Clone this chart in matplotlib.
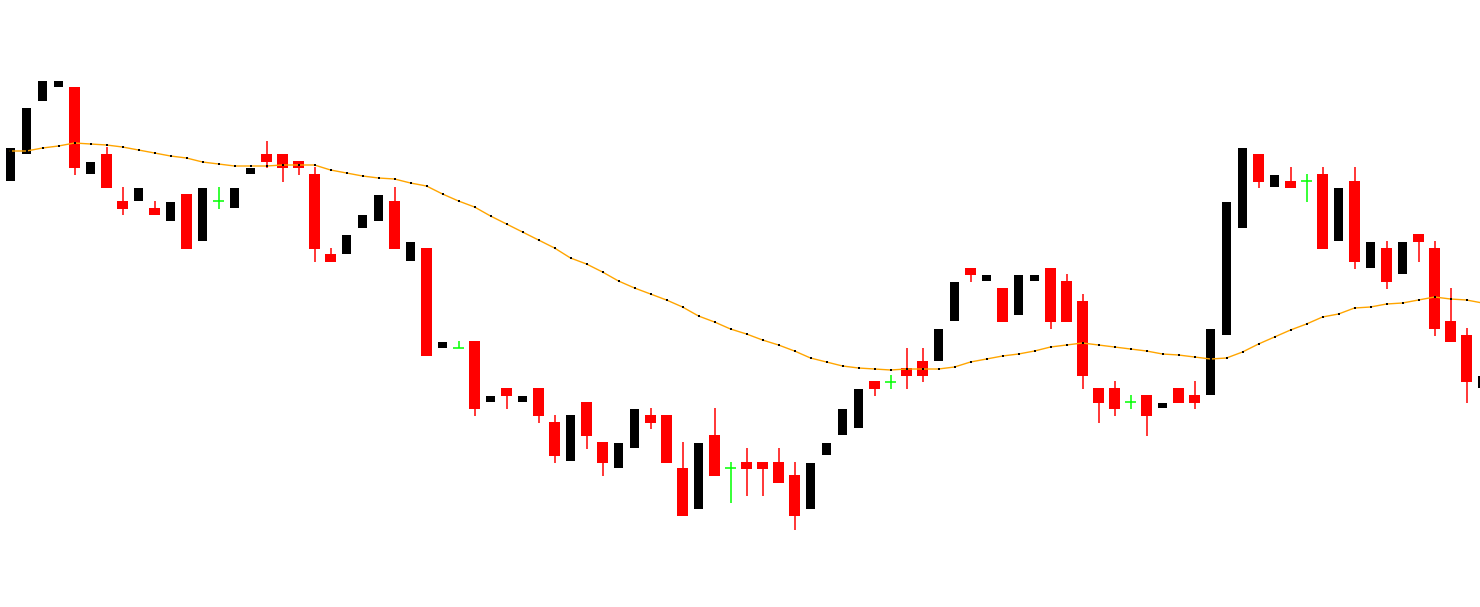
import numpy as np
import matplotlib
matplotlib.use("Agg")
import matplotlib.pyplot as plt

# OHLC per bar (oldest first)
opens = [1.1819, 1.1846, 1.1899, 1.1913, 1.1913, 1.1826, 1.1846, 1.1799, 1.1799, 1.1792,
         1.1779, 1.1806, 1.1759, 1.1799, 1.1792, 1.1826, 1.1846, 1.1846, 1.1839, 1.1826,
         1.1746, 1.1746, 1.1772, 1.1779, 1.1799, 1.1739, 1.1752, 1.1652, 1.1652, 1.1659,
         1.1598, 1.1612, 1.1598, 1.1612, 1.1578, 1.1539, 1.1598, 1.1558, 1.1532, 1.1552,
         1.1585, 1.1585, 1.1532, 1.1491, 1.1565, 1.1532, 1.1538, 1.1538, 1.1538, 1.1525,
         1.1491, 1.1545, 1.1565, 1.1572, 1.1619, 1.1618, 1.1632, 1.1639, 1.1639, 1.1679,
         1.1732, 1.1719, 1.1712, 1.1685, 1.1719, 1.1732, 1.1719, 1.1699, 1.1612, 1.1612,
         1.1598, 1.1605, 1.1592, 1.1612, 1.1605, 1.1605, 1.1665, 1.1772, 1.1846, 1.1813,
         1.1819, 1.1819, 1.1826, 1.1759, 1.1819, 1.1732, 1.1752, 1.1726, 1.1766, 1.1752,
         1.1679, 1.1665, 1.1612]
highs = [1.1852, 1.1892, 1.1919, 1.1919, 1.1913, 1.1838, 1.1853, 1.1813, 1.1812, 1.1799,
         1.1798, 1.1806, 1.1812, 1.1813, 1.1812, 1.1832, 1.1859, 1.1846, 1.1839, 1.1833,
         1.1752, 1.1765, 1.1785, 1.1805, 1.1813, 1.1758, 1.1752, 1.1658, 1.1659, 1.1659,
         1.1604, 1.1612, 1.1604, 1.1612, 1.1585, 1.1585, 1.1598, 1.1558, 1.1557, 1.1591,
         1.1592, 1.1585, 1.1558, 1.1557, 1.1592, 1.1538, 1.1552, 1.1538, 1.1552, 1.1538,
         1.1537, 1.1557, 1.1591, 1.1611, 1.1619, 1.1625, 1.1652, 1.1652, 1.1671, 1.1718,
         1.1732, 1.1725, 1.1712, 1.1725, 1.1725, 1.1732, 1.1726, 1.1706, 1.1612, 1.1619,
         1.1605, 1.1605, 1.1597, 1.1612, 1.1619, 1.1671, 1.1798, 1.1852, 1.1846, 1.1825,
         1.1833, 1.1826, 1.1833, 1.1812, 1.1833, 1.1758, 1.1759, 1.1758, 1.1766, 1.1759,
         1.1712, 1.1672, 1.1624]
lows = [1.1819, 1.1846, 1.1899, 1.1913, 1.1825, 1.1826, 1.1812, 1.1785, 1.1799, 1.1785,
        1.1779, 1.1751, 1.1759, 1.1791, 1.1792, 1.1826, 1.1832, 1.1818, 1.1825, 1.1738,
        1.1738, 1.1746, 1.1772, 1.1779, 1.1751, 1.1739, 1.1644, 1.1652, 1.1652, 1.1584,
        1.1598, 1.1591, 1.1598, 1.1577, 1.1537, 1.1539, 1.1551, 1.1524, 1.1532, 1.1552,
        1.1571, 1.1537, 1.1484, 1.1491, 1.1524, 1.1497, 1.1504, 1.1504, 1.1517, 1.1470,
        1.1491, 1.1545, 1.1565, 1.1572, 1.1604, 1.1611, 1.1611, 1.1618, 1.1639, 1.1679,
        1.1718, 1.1719, 1.1678, 1.1685, 1.1719, 1.1671, 1.1678, 1.1611, 1.1577, 1.1584,
        1.1591, 1.1564, 1.1592, 1.1597, 1.1591, 1.1605, 1.1665, 1.1772, 1.1812, 1.1813,
        1.1812, 1.1798, 1.1751, 1.1759, 1.1731, 1.1732, 1.1711, 1.1726, 1.1738, 1.1664,
        1.1658, 1.1597, 1.1612]
closes = [1.1852, 1.1892, 1.1919, 1.1919, 1.1832, 1.1838, 1.1812, 1.1791, 1.1812, 1.1785,
          1.1798, 1.1751, 1.1812, 1.1799, 1.1812, 1.1832, 1.1838, 1.1832, 1.1832, 1.1751,
          1.1738, 1.1765, 1.1785, 1.1805, 1.1751, 1.1758, 1.1644, 1.1658, 1.1652, 1.1591,
          1.1604, 1.1604, 1.1604, 1.1584, 1.1544, 1.1585, 1.1564, 1.1537, 1.1557, 1.1591,
          1.1577, 1.1537, 1.1484, 1.1557, 1.1524, 1.1532, 1.1531, 1.1531, 1.1517, 1.1484,
          1.1537, 1.1557, 1.1591, 1.1611, 1.1611, 1.1618, 1.1624, 1.1624, 1.1671, 1.1718,
          1.1725, 1.1725, 1.1678, 1.1725, 1.1725, 1.1678, 1.1678, 1.1624, 1.1597, 1.1591,
          1.1598, 1.1584, 1.1597, 1.1597, 1.1597, 1.1671, 1.1798, 1.1852, 1.1818, 1.1825,
          1.1812, 1.1819, 1.1751, 1.1812, 1.1738, 1.1758, 1.1718, 1.1758, 1.1758, 1.1671,
          1.1658, 1.1618, 1.1624]
# moving average overlay
ma = [1.1849, 1.1849, 1.1852, 1.1854, 1.1857, 1.1856, 1.1855, 1.1853, 1.1850, 1.1847,
      1.1844, 1.1842, 1.1838, 1.1836, 1.1834, 1.1834, 1.1834, 1.1835, 1.1835, 1.1835,
      1.1830, 1.1827, 1.1824, 1.1822, 1.1821, 1.1817, 1.1814, 1.1806, 1.1799, 1.1793,
      1.1784, 1.1776, 1.1768, 1.1760, 1.1752, 1.1742, 1.1736, 1.1728, 1.1719, 1.1712,
      1.1706, 1.1700, 1.1693, 1.1684, 1.1678, 1.1671, 1.1666, 1.1660, 1.1655, 1.1649,
      1.1642, 1.1638, 1.1634, 1.1632, 1.1631, 1.1630, 1.1631, 1.1631, 1.1631, 1.1633,
      1.1638, 1.1641, 1.1644, 1.1646, 1.1649, 1.1653, 1.1655, 1.1657, 1.1655, 1.1653,
      1.1651, 1.1649, 1.1646, 1.1645, 1.1643, 1.1641, 1.1642, 1.1648, 1.1656, 1.1663,
      1.1670, 1.1676, 1.1683, 1.1686, 1.1692, 1.1693, 1.1696, 1.1697, 1.1700, 1.1703,
      1.1701, 1.1700, 1.1697]

o, h, l, c = map(np.asarray, (opens, highs, lows, closes))
x = np.arange(len(o))
up = c > o
down = c < o
doji = c == o

fig = plt.figure(figsize=(14.8, 6.07), dpi=100)
ax = fig.add_axes([0, 0, 1, 1])

# wicks (bull wicks are white on this chart, so only bear bars show them)
ax.vlines(x[down], l[down], h[down], color="#ff0000", lw=1.1)
ax.vlines(x[doji], l[doji], h[doji], color="#00ff00", lw=1.1)
ax.hlines(o[doji], x[doji] - 0.34, x[doji] + 0.34, color="#00ff00", lw=1.1)

ax.bar(x[up], (c - o)[up], bottom=o[up], width=0.56, color="black", linewidth=0)
ax.bar(x[down], (o - c)[down], bottom=c[down], width=0.68, color="#ff0000", linewidth=0)

ax.plot(x, ma, color="#ffa500", lw=1.0)
ax.plot(x, ma, ls="none", marker="s", ms=1.6, color="black", mew=0)

ax.set_xlim(-10.5 / 16, (1480 - 10.5) / 16)
ax.set_ylim(1.2 - 0.0607, 1.2)
ax.axis("off")

fig.savefig("out.png", dpi=100, facecolor="white")
